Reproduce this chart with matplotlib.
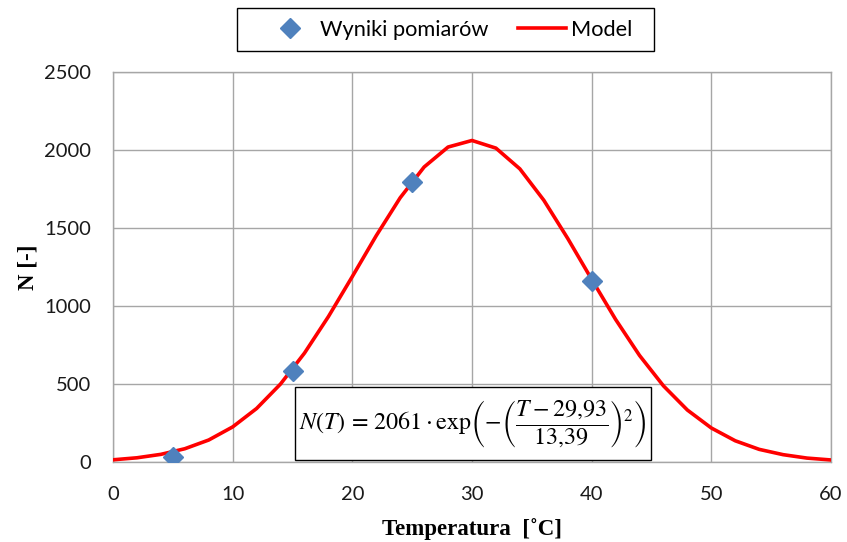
import matplotlib
matplotlib.use("Agg")
import matplotlib.pyplot as plt
from matplotlib.lines import Line2D
from matplotlib.patches import Rectangle

meas_T = [5, 15, 25, 40]
meas_N = [35, 585, 1795, 1162]

# Model curve values (every 2 degC)
model_T = [0, 2, 4, 6, 8, 10, 12, 14, 16, 18, 20, 22, 24, 26, 28, 30,
           32, 34, 36, 38, 40, 42, 44, 46, 48, 50, 52, 54, 56, 58, 60]
model_N = [14, 27, 49, 85, 141, 225, 343, 500, 698, 932, 1189, 1451, 1694,
           1891, 2019, 2061, 2012, 1879, 1678, 1433, 1171, 914, 683, 488,
           333, 218, 136, 81, 47, 25, 13]

x_ticks = [0, 10, 20, 30, 40, 50, 60]
y_ticks = [0, 500, 1000, 1500, 2000, 2500]

W, H = 847, 542
fig = plt.figure(figsize=(W / 100, H / 100), dpi=100)
ax = fig.add_axes([113 / W, (H - 462) / H, (831 - 113) / W, (462 - 72) / H])

grid_c = "#A6A6A6"
ax.plot(model_T, model_N, color="#FF0000", lw=2.6, zorder=3, solid_joinstyle="round")
ax.plot(meas_T, meas_N, linestyle="none", marker="D", markersize=10.5,
        color="#4F81BD", zorder=4)

ax.set_xlim(0, 60)
ax.set_ylim(0, 2500)
ax.set_xticks(x_ticks)
ax.set_yticks(y_ticks)
ax.grid(True, color=grid_c, lw=1.0)
ax.set_axisbelow(True)
for s in ax.spines.values():
    s.set_color(grid_c)
    s.set_linewidth(1.0)
ax.tick_params(length=0, labelsize=14.5, colors="#1a1a1a")
ax.tick_params(axis="y", pad=16)
ax.tick_params(axis="x", pad=17)
for lab in ax.get_xticklabels() + ax.get_yticklabels():
    lab.set_fontfamily("Lato")

ax.set_xlabel("Temperatura  [˚C]", fontfamily="Liberation Serif", fontweight="bold",
              fontsize=16.5, labelpad=11)
ax.set_ylabel("N [-]", fontfamily="Liberation Serif", fontweight="bold",
              fontsize=16.5, labelpad=4)

# Legend
fig.patches.append(Rectangle((237 / W, 1 - 51 / H), (654 - 237) / W, (51 - 8) / H,
                             transform=fig.transFigure, facecolor="white",
                             edgecolor="black", lw=1.0))
handles = [Line2D([], [], linestyle="none", marker="D", markersize=10, color="#4F81BD"),
           Line2D([], [], color="#FF0000", lw=2.6)]
leg = fig.legend(handles, ["Wyniki pomiarów", "Model"], loc="center",
                 bbox_to_anchor=(449.5 / W, 1 - 30 / H), ncol=2, frameon=False,
                 prop={"family": "Lato", "size": 15.7},
                 handlelength=2.2, handletextpad=0.25, columnspacing=1.35,
                 borderpad=0.3, borderaxespad=0)

# Equation box
bx0, by0, bx1, by1 = 295, 387, 651, 460
fig.patches.append(Rectangle((bx0 / W, 1 - by1 / H), (bx1 - bx0) / W, (by1 - by0) / H,
                             transform=fig.transFigure, facecolor="white",
                             edgecolor="black", lw=1.0, zorder=5))
eq = (r"$N(T)\,=\,2061\cdot\mathrm{exp}\left(-\left(\dfrac{T-29{,}93}{13{,}39}\right)^{2}\right)$")
fig.text((bx0 + bx1) / 2 / W, 1 - (by0 + by1) / 2 / H, eq, ha="center", va="center",
         fontsize=17.3, math_fontfamily="stix", zorder=6)

fig.savefig("out.png", dpi=100)
